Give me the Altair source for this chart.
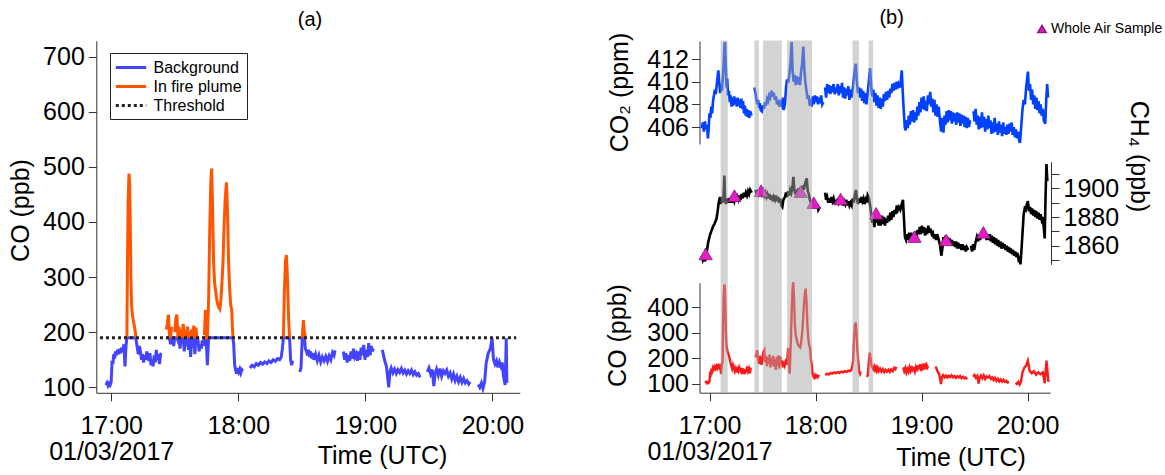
import altair as alt
import pandas as pd

FONT = "Liberation Sans"

# ---------------- data (t = minutes after 17:00 UTC, 01/03/2017) ----------------
# CO (ppb), continuous runs separated where the record has gaps
co_segments = [
    [(-2.5,104),(-2.0,108),(-1.5,103),(-1.0,107),(-0.5,104),(0.0,110),(0.4,148),(0.8,142),(1.2,160),(1.6,152),
     (2.0,165),(2.5,158),(3.0,168),(3.5,160),(4.0,170),(4.5,162),(5.0,172),(5.5,165),(6.0,178),(6.5,138),
     (7.0,175),(7.4,190),(7.7,330),(8.0,440),(8.4,488),(8.7,470),(9.0,400),(9.3,300),(9.6,250),(10.0,232),
     (10.5,220),(11.0,210),(11.4,200),(11.8,185),(12.3,172),(12.8,160),(13.3,175),(13.8,165),(14.3,150),(14.8,160),
     (15.3,145),(15.8,158),(16.3,150),(16.8,165),(17.3,155),(17.8,148),(18.3,162),(18.8,140),(19.3,150),(19.8,138),
     (20.3,158),(20.8,145),(21.3,168),(21.8,150),(22.3,160),(22.8,142),(23.3,160),(23.7,162)],
    [(26.0,205),(26.5,215),(27.0,232),(27.5,195),(28.0,178),(28.5,210),(29.0,188),(29.5,175),(30.0,200),(30.5,225),
     (31.0,232),(31.5,185),(32.0,210),(32.5,170),(33.0,205),(33.5,180),(34.0,215),(34.5,165),(35.0,200),(35.5,175),
     (36.0,210),(36.5,168),(37.0,195),(37.5,155),(38.0,205),(38.5,172),(39.0,212),(39.5,160),(40.0,208),(40.5,182),
     (41.0,185),(41.5,165),(42.0,178),(42.5,170),(43.0,185),(43.5,175),(44.0,195),(44.5,240),(45.0,175),(45.4,140),
     (46.0,260),(46.5,380),(47.0,470),(47.4,497),(47.8,440),(48.3,330),(48.8,290),(49.3,275),(49.8,260),(50.3,250),
     (50.8,245),(51.3,242),(51.8,260),(52.3,290),(52.8,330),(53.3,395),(53.8,440),(54.4,472),(54.9,420),(55.4,330),
     (55.9,280),(56.4,250),(56.9,240),(57.4,195),(57.8,180),(58.3,140),(58.8,130),(59.2,125),(59.7,135),(60.2,128),
     (60.7,133),(61.2,126),(61.7,132),(62.2,130)],
    [(65.5,135),(66.5,140),(67.5,137),(68.5,143),(69.5,140),(70.5,145),(71.5,142),(72.5,146),(73.5,143),(74.5,148),
     (75.5,145),(76.5,150),(77.5,147),(78.5,152),(79.5,150),(80.3,155),(80.8,170),(81.3,190),(81.8,280),(82.3,330),
     (82.7,340),(83.2,300),(83.7,230),(84.2,190),(84.7,150),(85.2,140),(85.6,148)],
    [(89.0,128),(89.6,135),(90.2,190),(90.7,222),(91.2,200),(91.7,170),(92.2,165),(92.7,158),(93.2,168),(93.7,155),
     (94.2,165),(94.7,152),(95.2,162),(95.7,150),(96.5,160),(97.3,148),(98.1,158),(98.9,146),(99.7,155),(100.5,148),
     (101.3,156),(102.1,147),(102.9,157),(103.7,150),(104.5,163),(105.2,158),(105.7,167)],
    [(109.6,165),(110.2,150),(110.8,162),(111.4,145),(112.0,158),(112.6,148),(113.2,165),(113.8,152),(114.4,170),(115.0,155),
     (115.6,160),(116.2,148),(116.8,165),(117.4,150),(118.0,172),(118.6,158),(119.2,177),(119.8,150),(120.4,168),(121.0,155),
     (121.6,180),(122.2,158),(122.8,175),(123.4,165),(123.7,170)],
    [(128.0,168),(129.0,150),(130.0,137),(130.6,115),(131.0,100),(131.6,128),(132.2,135),(133.0,126),(133.8,133),(134.6,125),
     (135.4,132),(136.2,127),(137.0,134),(137.8,126),(138.6,131),(139.4,124),(140.2,130),(141.0,125),(141.8,131),(142.6,123),
     (143.4,128),(144.2,122),(145.0,125),(145.8,118)],
    [(149.2,128),(150.0,135),(150.8,124),(151.6,132),(152.3,102),(152.9,125),(153.6,133),(154.4,122),(155.2,134),(156.0,120),
     (156.8,130),(157.6,125),(158.4,131),(159.2,120),(160.0,126),(160.8,115),(161.6,124),(162.4,112),(163.2,120),(164.0,110),
     (164.8,118),(165.6,109),(166.4,116),(167.2,108),(168.0,112),(168.8,106),(169.4,110)],
    [(173.3,105),(174.0,100),(174.8,108),(175.5,98),(176.3,110)],
]
# end of the record as drawn in panel (a) and in panel (b)
co_tail_a = [(177.0,143),(178.0,162),(179.0,170),(179.8,189),(180.5,150),(181.2,142),(181.9,148),(182.6,136),
             (183.3,146),(184.0,138),(184.6,145),(185.2,120),(186.0,104),(186.5,189),(186.8,108)]
co_tail_b = [(177.0,143),(178.2,165),(179.2,172),(180.2,191),(181.2,150),(182.4,142),(183.6,150),(184.8,136),
             (186.0,146),(187.2,138),(188.6,145),(189.3,120),(189.7,103),(190.7,191),(191.8,108)]

co2_segments = [
    [(-4.4,405.9),(-3.8,406.4),(-3.2,405.6),(-2.6,406.5),(-2.0,405.8),(-1.4,406.2),(-0.9,405.0),(-0.5,405.8),(0.0,407.2),(0.5,406.8),
     (1.0,407.8),(1.5,407.2),(2.0,408.3),(2.5,408.8),(3.0,409.3),(3.5,408.9),(4.0,409.6),(4.5,410.3),(5.0,411.0),(5.5,410.0),
     (6.0,409.0),(6.5,409.8),(7.0,409.2),(7.5,410.2),(8.0,411.5),(8.5,413.3),(8.8,413.5),(9.2,411.5),(9.6,409.5),(10.0,410.3),
     (10.5,408.8),(11.0,409.2),(11.5,408.2),(12.0,408.8),(12.5,407.8),(13.0,408.6),(13.5,407.9),(14.0,408.7),(14.5,408.0),(15.0,408.5),
     (15.5,407.8),(16.0,408.6),(16.5,407.9),(17.0,408.4),(17.5,407.7),(18.0,408.5),(18.5,407.6),(19.0,408.3),(19.5,407.2),(20.0,407.9),
     (20.5,407.0),(21.0,407.6),(21.5,406.9),(22.0,407.5),(22.5,406.8),(23.0,407.4),(23.8,407.0)],
    [(25.4,409.5),(26.0,409.0),(26.5,408.5),(27.0,408.0),(27.5,408.4),(28.0,407.7),(28.5,408.1),(29.0,407.5),(29.6,407.4),(30.2,407.9),
     (30.8,407.6),(31.4,408.2),(32.0,407.9),(32.6,408.5),(33.2,408.3),(33.8,408.8),(34.4,408.6),(35.2,409.2),(35.8,408.7),(36.4,409.0),
     (37.0,408.4),(37.6,408.7),(38.2,408.0),(38.8,408.4),(39.4,407.8),(40.0,408.2),(40.9,407.9),(41.5,408.6),(42.0,407.5),(42.7,408.0),
     (43.3,409.5),(43.9,410.2),(44.5,409.9),(45.2,410.6),(45.8,411.5),(46.5,413.5),(47.0,411.0),(47.6,410.0),(48.2,410.6),(48.8,409.7),
     (49.4,410.5),(50.0,409.8),(50.6,410.4),(51.2,409.7),(51.8,410.8),(52.4,411.5),(53.1,413.1),(53.7,411.0),(54.3,409.9),(54.9,409.2),
     (55.5,408.5),(56.1,408.8),(56.7,407.9),(57.3,408.5),(57.8,407.8),(58.4,408.7),(59.0,408.0),(59.6,408.8),(60.2,408.2),(60.8,408.7),
     (61.4,408.0),(62.0,408.6),(62.6,408.1),(63.2,408.8),(63.8,408.0),(64.4,408.2)],
    [(65.4,409.5),(66.0,408.6),(66.6,409.8),(67.2,409.0),(67.8,409.7),(68.4,408.9),(69.0,409.6),(69.6,409.1),(70.2,409.8),(70.8,408.9),
     (71.4,409.5),(72.0,409.0),(72.6,409.8),(73.2,408.8),(73.8,409.6),(74.4,409.0),(75.0,409.9),(75.6,408.6),(76.2,409.5),(76.8,408.5),
     (77.4,409.4),(78.0,408.8),(78.6,409.6),(79.2,408.4),(79.8,409.3),(80.4,408.6),(81.0,409.3),(81.6,410.2),(82.2,411.0),(82.8,411.6),
     (83.4,410.0),(84.0,409.0),(84.6,409.5),(85.2,408.6),(85.8,409.4),(86.4,408.3),(87.0,409.2),(87.6,408.1),(88.2,409.0),(88.8,408.0),
     (89.4,408.8),(90.0,409.8),(90.9,411.2),(91.5,409.6),(92.1,408.7),(92.7,409.3),(93.3,408.2),(93.9,409.0),(94.5,407.9),(95.1,408.8),
     (95.7,407.7),(96.3,408.6),(96.9,407.6),(97.5,408.5),(98.1,407.8),(98.7,408.9),(99.3,408.3),(99.9,409.1),(100.5,408.4),(101.1,409.2),
     (101.7,408.6),(102.3,409.4),(102.9,409.0),(103.5,409.8),(104.1,409.2),(104.7,409.9),(105.3,409.3),(105.9,410.0),(106.5,409.4),(107.1,409.8),
     (107.9,409.5),(108.8,411.0),(109.4,409.0),(109.9,407.5),(110.5,406.0),(111.0,405.7),(111.6,406.6),(112.2,405.9),(112.8,407.0),(113.4,406.2),
     (114.0,407.4),(114.6,406.5),(115.2,407.5),(115.8,406.4),(116.4,407.3),(117.0,406.6),(117.6,407.8),(118.2,407.0),(118.8,408.2),(119.4,407.3),
     (120.0,408.6),(120.6,407.6),(121.2,408.7),(121.8,407.5),(122.4,408.3),(123.0,407.4),(123.6,408.8),(124.2,408.0),(124.9,409.1),(125.5,407.8),
     (126.1,408.5),(126.7,407.3),(127.3,408.4),(127.9,407.0),(128.5,408.0),(129.1,406.9),(129.7,407.8),(130.5,406.4),(131.1,405.6),(131.7,406.8),
     (132.4,405.5),(133.0,407.0),(133.6,406.2),(134.2,407.4),(134.8,406.4),(135.4,407.5),(136.0,406.6),(136.6,407.4),(137.2,406.3),(137.8,407.3),
     (138.4,406.5),(139.0,407.2),(139.6,406.2),(140.2,407.3),(140.8,406.4),(141.4,407.2),(142.0,406.1),(142.6,407.1),(143.2,406.3),(143.8,407.0),
     (144.4,406.0),(145.0,406.9),(145.6,405.9),(146.2,406.8),(146.8,406.0),(147.5,406.6)],
    [(149.4,407.4),(150.0,406.5),(150.6,407.6),(151.2,406.2),(151.8,407.0),(152.4,405.8),(153.0,406.9),(153.6,405.9),(154.2,407.3),(154.8,406.0),
     (155.4,406.9),(156.0,405.6),(156.6,406.7),(157.2,405.8),(157.8,407.0),(158.4,405.9),(159.0,406.6),(159.6,405.4),(160.2,406.4),(160.8,405.5),
     (161.4,406.8),(162.0,405.6),(162.6,406.3),(163.2,405.3),(163.8,406.5),(164.4,405.5),(165.0,406.2),(165.6,405.2),(166.2,406.4),(166.8,405.4),
     (167.4,406.0),(168.0,405.3),(168.6,406.2),(169.2,405.4),(169.8,406.3),(170.4,405.6),(171.0,406.4),(171.6,405.3),(172.2,406.0),(172.8,405.1),
     (173.4,405.8),(174.0,405.0),(174.6,405.6),(175.2,404.8),(175.7,404.6),(176.4,406.0),(177.1,407.5),(177.8,408.4),(178.5,408.0),(179.2,409.5),
     (180.2,410.9),(180.8,409.2),(181.4,409.8),(182.0,408.4),(182.6,409.3),(183.2,408.0),(183.8,408.8),(184.4,407.6),(185.0,408.6),(185.6,407.5),
     (186.2,408.3),(186.8,407.2),(187.4,408.0),(188.0,407.0),(188.6,407.6),(189.2,406.6),(190.0,406.3),(190.6,408.5),(191.1,409.8),(191.6,408.6)],
]

ch4_segments = [
    [(-4.4,1853),(-3.8,1850),(-3.2,1852),(-2.5,1849),(-2.0,1858),(-1.5,1856),(-0.8,1862),(0.0,1866),(0.4,1868),(1.0,1870),
     (1.6,1872),(2.2,1874),(2.8,1875),(3.4,1877),(4.0,1879),(4.6,1884),(5.2,1890),(5.9,1894),(6.4,1889),(7.0,1894),
     (7.6,1890),(8.0,1896),(8.4,1909),(8.8,1893),(9.3,1889),(9.8,1893),(10.4,1890),(11.0,1893),(11.6,1890),(12.2,1894),
     (12.8,1890),(13.4,1893),(14.0,1891),(14.6,1895),(15.2,1891),(15.8,1894),(16.4,1892),(17.0,1895),(17.6,1892),(18.2,1896),
     (18.8,1893),(19.4,1897),(20.0,1894),(20.6,1897),(21.2,1895),(21.8,1898),(22.4,1896),(23.0,1899),(23.9,1897)],
    [(26.1,1899),(26.7,1896),(27.3,1899),(27.9,1896),(28.5,1898),(29.2,1899),(29.8,1896),(30.4,1898),(31.0,1895),(31.6,1897),
     (32.2,1894),(32.8,1896),(33.4,1893),(34.0,1896),(34.6,1892),(35.2,1895),(35.8,1891),(36.4,1894),(37.0,1892),(37.6,1895),
     (38.2,1891),(38.8,1894),(39.4,1890),(40.0,1893),(40.6,1888),(41.2,1887),(41.8,1892),(42.7,1894),(43.3,1897),(43.9,1894),
     (44.5,1898),(45.1,1895),(45.7,1899),(46.3,1897),(47.0,1902),(47.5,1908),(48.0,1899),(48.6,1896),(49.2,1899),(49.8,1896),
     (50.4,1900),(51.0,1897),(51.6,1901),(52.2,1898),(52.8,1902),(53.4,1899),(54.0,1903),(54.5,1905),(55.0,1907),(55.6,1898),
     (56.2,1896),(56.8,1892),(57.4,1890),(58.0,1887),(58.6,1891),(59.2,1887),(59.8,1890),(60.4,1886),(61.0,1889),(61.6,1885),
     (62.5,1887)],
    [(65.4,1897),(66.0,1892),(66.6,1894),(67.2,1890),(67.8,1893),(68.4,1890),(69.0,1894),(69.6,1891),(70.2,1893),(70.8,1889),
     (71.4,1892),(72.0,1889),(72.6,1893),(73.2,1890),(73.8,1892),(74.4,1889),(75.0,1892),(75.6,1888),(76.2,1891),(76.8,1889),
     (77.4,1892),(78.0,1888),(78.6,1891),(79.2,1888),(79.8,1890),(80.5,1888),(81.1,1893),(81.7,1890),(82.3,1896),(82.9,1899),
     (83.5,1892),(84.1,1889),(84.7,1893),(85.3,1890),(85.9,1894),(86.5,1891),(87.1,1893),(87.7,1889),(88.3,1892),(88.9,1890),
     (89.5,1895),(90.2,1893),(90.9,1888),(91.5,1882),(92.1,1876),(92.7,1879),(93.3,1873),(93.9,1880),(94.5,1876),(95.1,1882),
     (95.7,1874),(96.3,1879),(96.9,1874),(97.5,1881),(98.1,1875),(98.7,1880),(99.3,1874),(99.9,1879),(100.5,1876),(101.1,1881),
     (101.7,1877),(102.3,1883),(102.9,1878),(103.5,1884),(104.1,1880),(104.7,1885),(105.3,1882),(106.0,1888),(106.6,1885),(107.2,1887),
     (108.0,1885),(108.8,1889),(109.5,1892),(110.0,1880),(110.6,1866),(111.2,1864),(111.8,1868),(112.4,1864),(113.0,1869),(113.6,1865),
     (114.2,1869),(114.8,1864),(115.4,1868),(116.0,1865),(116.6,1870),(117.2,1866),(117.8,1871),(118.4,1868),(119.0,1873),(119.6,1868),
     (120.2,1874),(120.8,1869),(121.4,1873),(122.0,1867),(122.6,1872),(123.2,1868),(123.8,1874),(124.4,1869),(125.0,1872),(125.8,1868),
     (126.4,1869),(127.0,1865),(127.6,1868),(128.2,1864),(128.8,1868),(129.6,1865),(130.5,1860),(131.2,1853),(131.8,1858),(132.4,1866),
     (133.0,1862),(133.6,1867),(134.2,1862),(134.8,1866),(135.4,1861),(136.0,1865),(136.6,1860),(137.2,1864),(137.8,1860),(138.4,1863),
     (139.0,1859),(139.6,1863),(140.2,1858),(140.8,1862),(141.4,1858),(142.0,1861),(142.6,1857),(143.2,1861),(143.8,1857),(144.4,1860),
     (145.0,1856),(145.6,1859),(146.5,1857)],
    [(148.0,1860),(148.6,1856),(149.2,1861),(149.8,1857),(150.5,1862),(151.3,1866),(152.0,1863),(152.6,1868),(153.2,1864),(153.8,1869),
     (154.4,1866),(155.0,1870),(155.6,1866),(156.2,1869),(156.8,1864),(157.4,1868),(158.0,1864),(158.6,1868),(159.2,1863),(159.8,1867),
     (160.4,1862),(161.0,1866),(161.6,1861),(162.2,1865),(162.8,1860),(163.4,1864),(164.0,1859),(164.6,1863),(165.2,1858),(165.8,1862),
     (166.4,1858),(167.0,1861),(167.6,1857),(168.2,1860),(168.8,1856),(169.4,1859),(170.0,1855),(170.6,1858),(171.2,1854),(171.8,1857),
     (172.4,1853),(173.0,1856),(173.6,1852),(174.2,1855),(174.8,1851),(175.4,1853),(176.0,1847),(176.6,1858),(177.2,1870),(177.8,1882),
     (178.4,1886),(179.0,1885),(179.6,1889),(180.2,1891),(180.8,1884),(181.4,1887),(182.0,1882),(182.6,1886),(183.2,1881),(183.8,1885),
     (184.4,1880),(185.0,1884),(185.6,1879),(186.2,1883),(186.8,1878),(187.4,1882),(188.0,1878),(188.6,1880),(189.2,1872),(189.7,1865),
     (190.2,1895),(190.7,1917),(191.2,1905)],
]

# whole air samples: (minutes, CH4 ppb)
was_samples = [(-2.2,1854.2),(14.1,1894.9),(29.2,1898.4),(51.6,1897.7),(59.0,1890.0),
               (74.2,1892.6),(94.3,1882.6),(116.0,1866.3),(133.9,1864.0),(155.0,1869.3)]

# in-plume periods: orange in (a), grey bands in (b)
plume_windows_a = [(7.2,11.8),(26.0,28.6),(29.9,41.0),(44.0,57.8),(81.0,84.6),(90.0,92.3)]
plume_bands_b = [(6.3,10.3),(25.4,28.0),(30.3,40.9),(43.9,58.0),(80.9,84.6),(90.0,92.6)]

THRESHOLD = 190
threshold_span = (-5.3, 191.2)
series_names = ["Background", "In fire plume", "Threshold"]
hour_ticks = [0, 60, 120, 180]

# ---------------- frames ----------------
co_a = co_segments[:-1] + [co_segments[-1] + co_tail_a]
co_b = co_segments[:-1] + [co_segments[-1] + co_tail_b]

rows = []
for k, seg in enumerate(co_a):
    for t, v in seg:
        rows.append(dict(t=t, v=min(v, THRESHOLD), series="Background", seg=f"b{k}"))
for k, (a, b) in enumerate(plume_windows_a):
    for seg in co_a:
        for t, v in seg:
            if a <= t <= b:
                rows.append(dict(t=t, v=max(v, THRESHOLD), series="In fire plume", seg=f"o{k}"))
for t in threshold_span:
    rows.append(dict(t=t, v=THRESHOLD, series="Threshold", seg="th"))
df_a = pd.DataFrame(rows)


def seg_frame(segments):
    return pd.DataFrame([dict(t=t, v=v, seg=k) for k, s in enumerate(segments) for t, v in s])


df_co2 = seg_frame(co2_segments)
df_ch4 = seg_frame(ch4_segments)
df_cob = seg_frame(co_b)
df_was = pd.DataFrame([dict(t=t, v=v, kind="Whole Air Sample") for t, v in was_samples])
df_bands = pd.DataFrame([dict(t0=a, t1=b) for a, b in plume_bands_b])

# ---------------- scales (pixel ranges place the panels) ----------------
xa = alt.Scale(domain=[-7.03, 192.9], range=[96.3, 519.8], nice=False, zero=False)
ya = alt.Scale(domain=[90, 729], range=[392.8, 40.7], nice=False, zero=False)
xb = alt.Scale(domain=[-5.66, 192.7], range=[699.5, 1050], nice=False, zero=False)
y_co2 = alt.Scale(domain=[404.5, 413.6], range=[144, 41], nice=False, zero=False)
y_ch4 = alt.Scale(domain=[1847, 1918.6], range=[264.3, 161.7], nice=False, zero=False)
y_co = alt.Scale(domain=[66, 495], range=[392.7, 282.7], nice=False, zero=False)

time_expr = "datum.value == 0 ? ['17:00', '01/03/2017'] : format(17 + datum.value / 60, 'd') + ':00'"

legend_a = alt.Legend(title=None, orient="none", legendX=110, legendY=53, strokeColor="#222",
                      fillColor="white", padding=5, labelFont=FONT, labelFontSize=16, labelColor="black",
                      symbolType="M-1.9,0L1.9,0", symbolSize=256, symbolOffset=6.5, labelOffset=13,
                      rowPadding=1, labelLimit=300)

left = alt.Chart(df_a).mark_line().encode(
    x=alt.X("t:Q", scale=xa, axis=alt.Axis(orient="bottom", offset=-82.2, values=hour_ticks,
                                             labelExpr=time_expr, labelLineHeight=26, labelPadding=13,
                                             title="Time (UTC)", titleX=382, titleY=63, titleBaseline="middle")),
    y=alt.Y("v:Q", scale=ya, axis=alt.Axis(orient="left", offset=-96.3, values=[100, 200, 300, 400, 500, 600, 700],
                                             labelPadding=4, title="CO (ppb)", titleX=-76, titleY=210,
                                             titleBaseline="middle")),
    color=alt.Color("series:N", scale=alt.Scale(domain=series_names, range=["#4444ff", "#ff5500", "#222222"]),
                    legend=legend_a),
    strokeDash=alt.StrokeDash("series:N", scale=alt.Scale(domain=series_names, range=[[1, 0], [1, 0], [3, 3]]),
                              legend=legend_a),
    strokeWidth=alt.StrokeWidth("series:N", scale=alt.Scale(domain=series_names, range=[3, 3, 1.8]),
                                legend=legend_a),
    detail="seg:N",
)

co2_line = alt.Chart(df_co2).mark_line(color="#0040ff", strokeWidth=2.6).encode(
    x=alt.X("t:Q", scale=xb, axis=None),
    y=alt.Y("v:Q", scale=y_co2, axis=alt.Axis(orient="left", offset=-699.5, values=[406, 408, 410, 412],
                                                labelPadding=3, title="CO₂ (ppm)", titleX=-80, titleY=92,
                                                titleBaseline="middle")),
    detail="seg:N",
)

ch4_line = alt.Chart(df_ch4).mark_line(color="black", strokeWidth=2.6).encode(
    x=alt.X("t:Q", scale=xb, axis=None),
    y=alt.Y("v:Q", scale=y_ch4, axis=alt.Axis(orient="right", offset=-114, format="d",
                                                values=[1850, 1860, 1870, 1880, 1890, 1900, 1910],
                                                labelExpr="datum.value % 20 == 0 ? datum.label : ''",
                                                labelPadding=4, title="CH₄ (ppb)", titleX=87, titleY=156,
                                                titleBaseline="middle")),
    detail="seg:N",
)

co_line = alt.Chart(df_cob).mark_line(color="#ff1a1a", strokeWidth=2.4).encode(
    x=alt.X("t:Q", scale=xb, axis=alt.Axis(orient="bottom", offset=-82.3, values=hour_ticks,
                                             labelExpr=time_expr, labelLineHeight=26, labelPadding=13,
                                             title="Time (UTC)", titleX=960.6, titleY=65, titleBaseline="middle")),
    y=alt.Y("v:Q", scale=y_co, axis=alt.Axis(orient="left", offset=-699.5, values=[100, 200, 300, 400],
                                               labelPadding=3, title="CO (ppb)", titleX=-82, titleY=335,
                                               titleBaseline="middle")),
    detail="seg:N",
)

was_pts = alt.Chart(df_was).mark_point(shape="triangle-up", filled=True, size=180, opacity=1,
                                       stroke="#8a1a7a", strokeWidth=0.8).encode(
    x=alt.X("t:Q", scale=xb, axis=None),
    y=alt.Y("v:Q", scale=y_ch4, axis=None),
    fill=alt.Fill("kind:N", scale=alt.Scale(domain=["Whole Air Sample"], range=["#e31cc4"]),
                  legend=alt.Legend(title=None, orient="none", legendX=1035, legendY=22, padding=0,
                                    symbolType="triangle-up", symbolSize=70, labelFont=FONT,
                                    labelFontSize=14, labelColor="black", labelOffset=2, labelLimit=300)),
)

bands = alt.Chart(df_bands).mark_rect(color="#a8a8a8", opacity=0.5).encode(
    x=alt.X("t0:Q", scale=xb, axis=None),
    x2="t1:Q",
    y=alt.value(40.5),
    y2=alt.value(392.5),
)

one = pd.DataFrame({"k": [0]})
label_a = alt.Chart(one).mark_text(text="(a)", font=FONT, fontSize=20, color="black").encode(
    x=alt.value(310), y=alt.value(20))
label_b = alt.Chart(one).mark_text(text="(b)", font=FONT, fontSize=20, color="black").encode(
    x=alt.value(891.6), y=alt.value(18))

chart = alt.layer(left, co2_line, ch4_line, co_line, was_pts, bands, label_a, label_b).resolve_scale(
    x="independent", y="independent"
).properties(
    width=1165, height=475, autosize=alt.AutoSizeParams(type="none"), padding=0
).configure_view(stroke=None).configure_axis(
    labelFont=FONT, titleFont=FONT, labelFontSize=25, titleFontSize=25, titleFontWeight="normal",
    labelColor="black", titleColor="black", grid=False, domainColor="#333333", tickColor="#333333",
    tickSize=8, labelFlush=False, labelOverlap=False, labelBound=False
)

chart.save("out.html", embed_options={"renderer": "svg", "actions": False})
